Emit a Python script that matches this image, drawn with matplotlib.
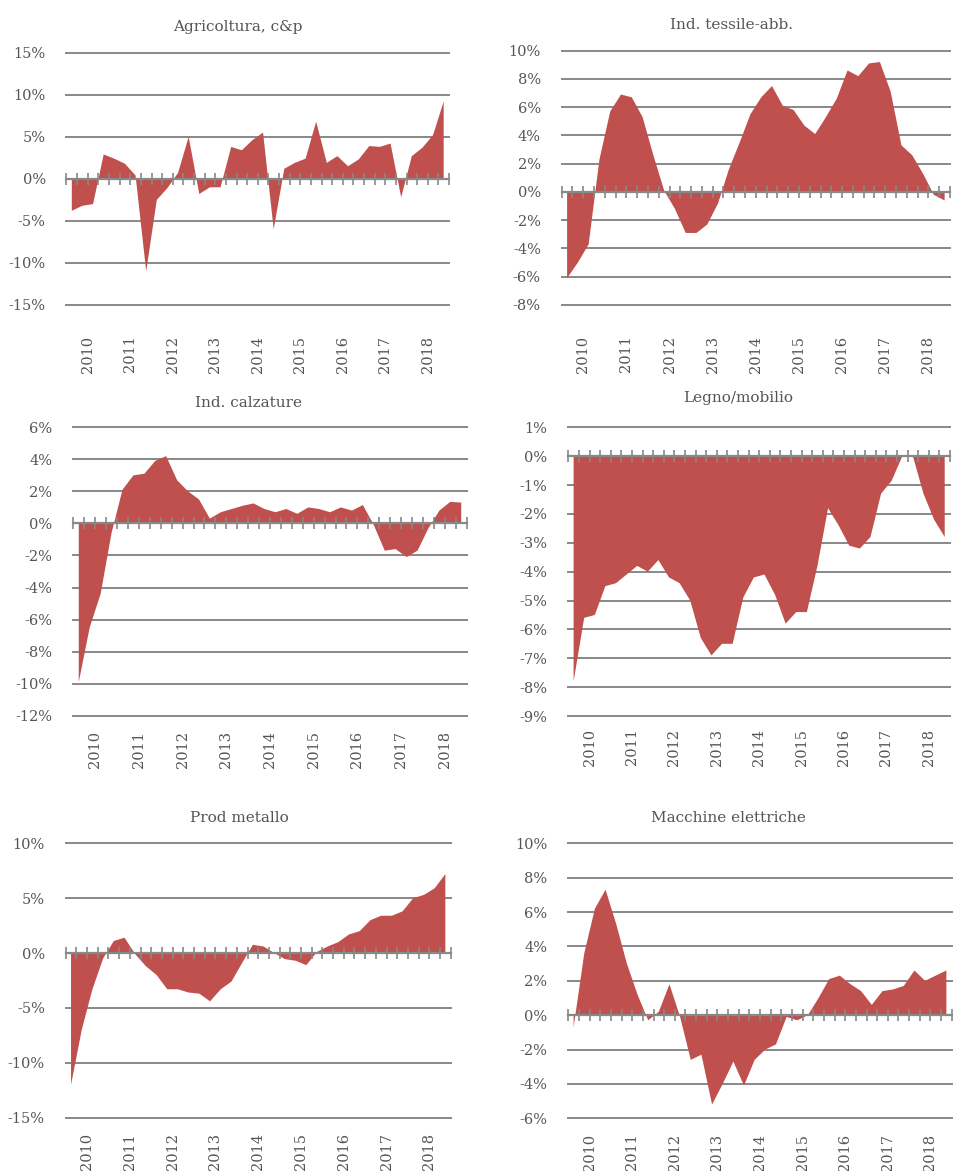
import numpy as np
import matplotlib
matplotlib.use("Agg")
import matplotlib.pyplot as plt
from matplotlib.ticker import FixedLocator, FuncFormatter

# ---------------- data (quarterly, 2010Q1 - 2018Q4, % change) ----------------
years = ["2010", "2011", "2012", "2013", "2014", "2015", "2016", "2017", "2018"]
n_quarters = 36

agricoltura = [-3.8, -3.2, -3.0, 2.9, 2.4, 1.8, 0.4, -11.0, -2.5, -1.1, 0.7, 5.0,
               -1.8, -1.0, -1.0, 3.8, 3.4, 4.6, 5.5, -6.0, 1.2, 1.9, 2.4, 6.8,
               1.9, 2.7, 1.5, 2.3, 3.9, 3.8, 4.2, -2.2, 2.7, 3.7, 5.2, 9.2]

tessile = [-6.1, -5.0, -3.7, 2.3, 5.7, 6.9, 6.7, 5.3, 2.6, 0.1, -1.2, -2.9,
           -2.9, -2.3, -0.8, 1.6, 3.5, 5.5, 6.7, 7.5, 6.1, 5.8, 4.7, 4.1,
           5.3, 6.6, 8.6, 8.2, 9.1, 9.2, 7.1, 3.3, 2.6, 1.3, -0.2, -0.6]

calzature = [-9.9, -6.5, -4.4, -0.6, 2.1, 3.0, 3.1, 3.9, 4.2, 2.7, 2.0, 1.5,
             0.3, 0.7, 0.9, 1.1, 1.25, 0.9, 0.7, 0.9, 0.6, 1.0, 0.9, 0.7,
             1.0, 0.8, 1.15, -0.1, -1.7, -1.6, -2.1, -1.7, -0.3, 0.8, 1.35, 1.3]

legno = [-7.8, -5.6, -5.5, -4.5, -4.4, -4.1, -3.8, -4.0, -3.6, -4.2, -4.4, -5.0,
         -6.3, -6.9, -6.5, -6.5, -4.9, -4.2, -4.1, -4.8, -5.8, -5.4, -5.4, -3.8,
         -1.8, -2.4, -3.1, -3.2, -2.8, -1.3, -0.85, 0.0, 0.0, -1.3, -2.2, -2.8]

metallo = [-12.0, -7.0, -3.3, -0.5, 1.1, 1.4, -0.1, -1.2, -2.0, -3.3, -3.3, -3.6,
           -3.7, -4.4, -3.3, -2.6, -0.9, 0.75, 0.6, 0.0, -0.55, -0.7, -1.1, 0.1,
           0.6, 1.0, 1.7, 2.0, 3.0, 3.4, 3.4, 3.8, 5.0, 5.3, 5.9, 7.2]

macchine = [-0.7, 3.6, 6.2, 7.3, 5.3, 3.0, 1.2, -0.3, 0.2, 1.8, -0.1, -2.6,
            -2.3, -5.2, -4.0, -2.7, -4.1, -2.6, -2.0, -1.7, -0.1, -0.3, 0.0, 1.0,
            2.1, 2.3, 1.8, 1.4, 0.6, 1.4, 1.5, 1.7, 2.6, 2.0, 2.3, 2.6]

titles = ["Agricoltura, c&p", "Ind. tessile-abb.", "Ind. calzature",
          "Legno/mobilio", "Prod metallo", "Macchine elettriche"]
series = [agricoltura, tessile, calzature, legno, metallo, macchine]
y_ranges = [(-15, 15, 5), (-8, 10, 2), (-12, 6, 2), (-9, 1, 1), (-15, 10, 5), (-6, 10, 2)]

# ---------------- layout (pixels) ----------------
W, H = 954, 1171
# left, right, top, bottom of each plot area
boxes = [(66.5, 449, 52.7, 305), (561.7, 950, 50.7, 305),
         (73.3, 466.7, 427.3, 715.7), (568.3, 950, 427.3, 716),
         (65.7, 450.7, 843.3, 1117.7), (568.3, 951.7, 843.3, 1118.3)]
title_pos = [(238, 27), (732, 25), (249, 403), (738, 398), (239, 818), (728, 818)]
label_pad = [22, 22, 11, 9, 11, 11]

FILL = "#C0504D"
GRID = "#888888"
TXT = "#555555"
FONT = "DejaVu Serif"
plt.rcParams["font.family"] = [FONT, "DejaVu Sans"]

fig = plt.figure(figsize=(W / 100, H / 100), dpi=100)
fig.patch.set_facecolor("white")

x = np.arange(n_quarters)
for i in range(6):
    l, r, t, b = boxes[i]
    ax = fig.add_axes([l / W, 1 - b / H, (r - l) / W, (b - t) / H])
    vals = np.array(series[i])
    ax.fill_between(x, 0, vals, facecolor=FILL, edgecolor="none", linewidth=0, zorder=1)

    lo, hi, step = y_ranges[i]
    ax.set_xlim(-0.5, n_quarters - 0.5)
    ax.set_ylim(lo, hi)
    ax.set_axisbelow(True)
    ax.yaxis.set_major_locator(FixedLocator(np.arange(lo, hi + step / 2, step)))
    ax.yaxis.set_major_formatter(FuncFormatter(lambda v, p: f"{v:.0f}%".replace("−", "-")))
    ax.yaxis.grid(True, color=GRID, linewidth=1.4)
    for gl in ax.yaxis.get_gridlines():
        gl.set_clip_on(False)
    ax.tick_params(axis="y", length=0, pad=15, labelsize=10.5, labelcolor=TXT)

    for s in ["top", "right", "left"]:
        ax.spines[s].set_visible(False)
    ax.spines["bottom"].set_position(("data", 0))
    ax.spines["bottom"].set_color(GRID)
    ax.spines["bottom"].set_linewidth(1.6)
    ax.spines["bottom"].set_zorder(3)
    ax.xaxis.set_zorder(3)
    ax.xaxis.set_major_locator(FixedLocator(np.arange(-0.5, n_quarters, 1)))
    ax.tick_params(axis="x", direction="inout", length=9, width=1.2, color=GRID,
                   labelbottom=False)

    sec = ax.secondary_xaxis("bottom")
    sec.spines["bottom"].set_visible(False)
    sec.set_xticks(np.arange(len(years)) * 4 + 1.5)
    sec.set_xticklabels(years, rotation=90)
    sec.tick_params(length=0, pad=label_pad[i], labelsize=10.5, labelcolor=TXT)

    tx, ty = title_pos[i]
    fig.text(tx / W, 1 - ty / H, titles[i], ha="center", va="center",
             fontsize=11, color=TXT)

fig.savefig("out.png", dpi=100, facecolor="white")
